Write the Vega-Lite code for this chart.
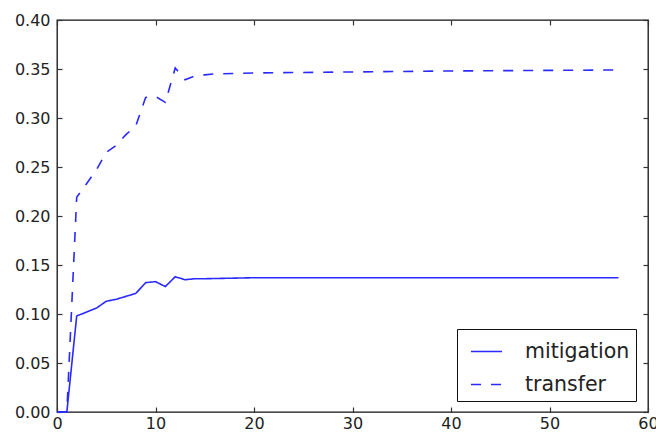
{
  "$schema": "https://vega.github.io/schema/vega-lite/v6.json",
  "width": 591,
  "height": 392,
  "autosize": {"type": "none"},
  "padding": {"left": 57, "top": 20, "right": 8, "bottom": 26},
  "background": "white",
  "config": {
    "view": {"stroke": "#111", "strokeWidth": 1.3},
    "font": "DejaVu Sans",
    "axis": {
      "grid": false,
      "labelFont": "DejaVu Sans",
      "labelFontSize": 16,
      "labelColor": "#222",
      "titleFontSize": 0,
      "tickColor": "#333",
      "tickWidth": 1.2,
      "tickSize": 5
    }
  },
  "data": {
    "values": [
      {"step": 0, "value": 0, "series": "mitigation"},
      {"step": 1, "value": 0, "series": "mitigation"},
      {"step": 2, "value": 0.098, "series": "mitigation"},
      {"step": 3, "value": 0.102, "series": "mitigation"},
      {"step": 4, "value": 0.106, "series": "mitigation"},
      {"step": 5, "value": 0.113, "series": "mitigation"},
      {"step": 6, "value": 0.115, "series": "mitigation"},
      {"step": 7, "value": 0.118, "series": "mitigation"},
      {"step": 8, "value": 0.121, "series": "mitigation"},
      {"step": 9, "value": 0.132, "series": "mitigation"},
      {"step": 10, "value": 0.133, "series": "mitigation"},
      {"step": 11, "value": 0.128, "series": "mitigation"},
      {"step": 12, "value": 0.138, "series": "mitigation"},
      {"step": 13, "value": 0.135, "series": "mitigation"},
      {"step": 14, "value": 0.136, "series": "mitigation"},
      {"step": 15, "value": 0.136, "series": "mitigation"},
      {"step": 20, "value": 0.137, "series": "mitigation"},
      {"step": 30, "value": 0.137, "series": "mitigation"},
      {"step": 40, "value": 0.137, "series": "mitigation"},
      {"step": 57, "value": 0.137, "series": "mitigation"},
      {"step": 0, "value": 0, "series": "transfer"},
      {"step": 1, "value": 0, "series": "transfer"},
      {"step": 2, "value": 0.219, "series": "transfer"},
      {"step": 3, "value": 0.233, "series": "transfer"},
      {"step": 4, "value": 0.247, "series": "transfer"},
      {"step": 5, "value": 0.265, "series": "transfer"},
      {"step": 6, "value": 0.272, "series": "transfer"},
      {"step": 7, "value": 0.283, "series": "transfer"},
      {"step": 8, "value": 0.292, "series": "transfer"},
      {"step": 9, "value": 0.321, "series": "transfer"},
      {"step": 10, "value": 0.322, "series": "transfer"},
      {"step": 11, "value": 0.316, "series": "transfer"},
      {"step": 12, "value": 0.351, "series": "transfer"},
      {"step": 13, "value": 0.339, "series": "transfer"},
      {"step": 14, "value": 0.343, "series": "transfer"},
      {"step": 15, "value": 0.344, "series": "transfer"},
      {"step": 16, "value": 0.345, "series": "transfer"},
      {"step": 20, "value": 0.346, "series": "transfer"},
      {"step": 30, "value": 0.347, "series": "transfer"},
      {"step": 40, "value": 0.348, "series": "transfer"},
      {"step": 57, "value": 0.349, "series": "transfer"}
    ]
  },
  "resolve": {"axis": {"x": "independent", "y": "independent"}},
  "layer": [
    {
      "mark": {"type": "line", "color": "#2a2aff", "strokeWidth": 1.6},
      "encoding": {
        "x": {
          "field": "step", "type": "quantitative",
          "scale": {"domain": [0, 60], "nice": false, "zero": false},
          "axis": {"orient": "bottom", "values": [0, 10, 20, 30, 40, 50, 60], "title": null, "ticks": false, "domain": false, "labelPadding": 3, "labelFlush": false}
        },
        "y": {
          "field": "value", "type": "quantitative",
          "scale": {"domain": [0, 0.4], "nice": false},
          "axis": {"orient": "left", "values": [0, 0.05, 0.1, 0.15, 0.2, 0.25, 0.3, 0.35, 0.4], "format": ".2f", "title": null, "ticks": false, "domain": false, "labelPadding": 7, "labelFlush": false}
        },
        "strokeDash": {
          "field": "series", "type": "nominal",
          "scale": {"domain": ["mitigation", "transfer"], "range": [[1, 0], [10, 10]]},
          "legend": {
            "title": null,
            "orient": "none",
            "legendX": 400,
            "legendY": 309,
            "symbolType": "stroke",
            "symbolSize": 961,
            "symbolOffset": 7,
            "symbolStrokeColor": "#2a2aff",
            "symbolStrokeWidth": 1.6,
            "labelFontSize": 20.5,
            "labelFont": "DejaVu Sans",
            "labelColor": "#222",
            "labelOffset": 22,
            "rowPadding": 6,
            "padding": 6,
            "strokeColor": "#111",
            "fillColor": "white",
            "cornerRadius": 0
          }
        }
      }
    },
    {
      "mark": {"type": "line", "opacity": 0},
      "encoding": {
        "x": {
          "field": "step", "type": "quantitative",
          "axis": {"orient": "bottom", "offset": -5, "values": [0, 10, 20, 30, 40, 50, 60], "labels": false, "domain": false, "title": null}
        },
        "y": {
          "field": "value", "type": "quantitative",
          "axis": {"orient": "left", "offset": -5, "values": [0, 0.05, 0.1, 0.15, 0.2, 0.25, 0.3, 0.35, 0.4], "labels": false, "domain": false, "title": null}
        }
      }
    },
    {
      "mark": {"type": "line", "opacity": 0},
      "encoding": {
        "x": {
          "field": "step", "type": "quantitative",
          "axis": {"orient": "top", "offset": -5, "values": [0, 10, 20, 30, 40, 50, 60], "labels": false, "domain": false, "title": null}
        },
        "y": {
          "field": "value", "type": "quantitative",
          "axis": {"orient": "right", "offset": -5, "values": [0, 0.05, 0.1, 0.15, 0.2, 0.25, 0.3, 0.35, 0.4], "labels": false, "domain": false, "title": null}
        }
      }
    }
  ]
}
